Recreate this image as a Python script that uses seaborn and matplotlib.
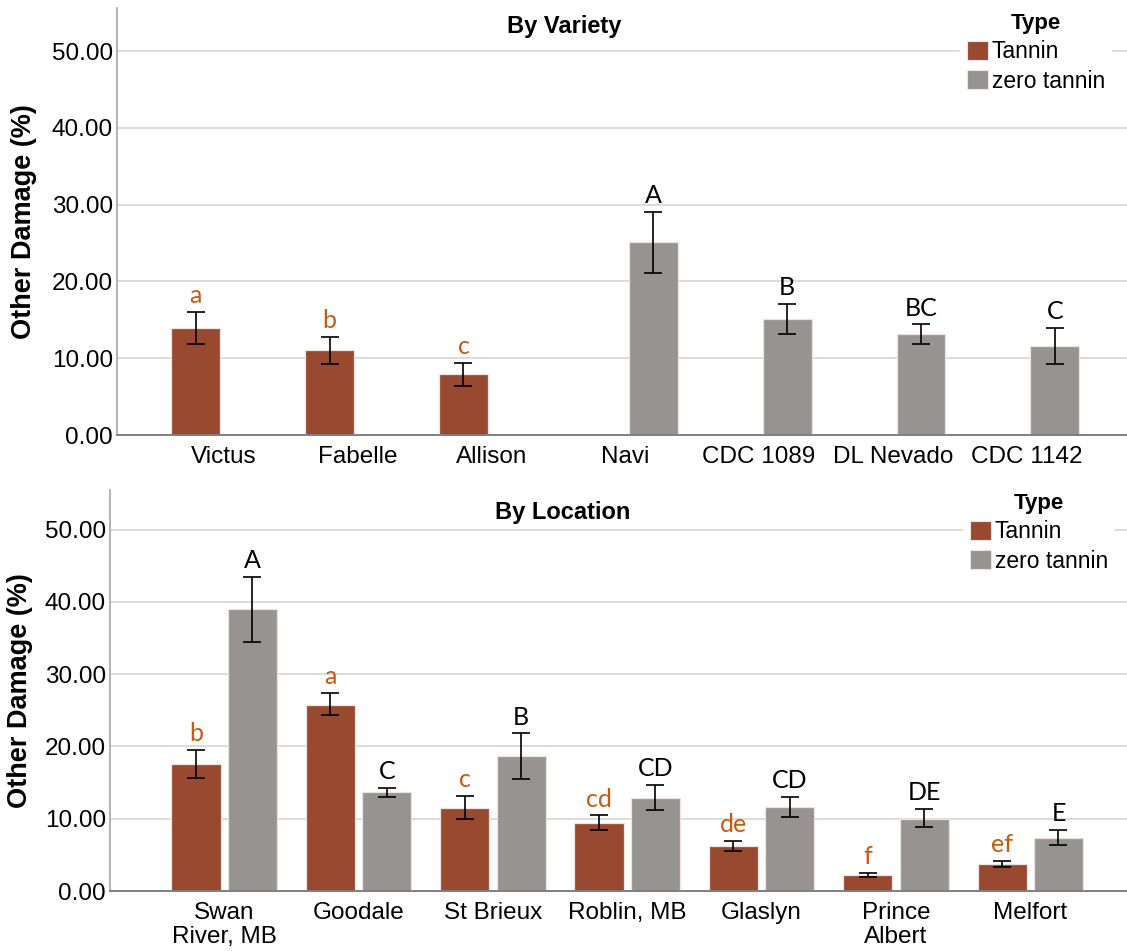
import matplotlib
matplotlib.use("Agg")
import matplotlib.pyplot as plt
import seaborn as sns
import pandas as pd

# ---------------- data ----------------
types = ["Tannin", "zero tannin"]

varieties = ["Victus", "Fabelle", "Allison", "Navi", "CDC 1089", "DL Nevado", "CDC 1142"]
variety_type = ["Tannin", "Tannin", "Tannin", "zero tannin", "zero tannin", "zero tannin", "zero tannin"]
variety_mean = [13.9, 11.1, 7.9, 25.1, 15.1, 13.1, 11.6]
variety_lo = [11.8, 9.3, 6.4, 21.1, 13.2, 11.8, 9.3]
variety_hi = [16.05, 12.8, 9.4, 29.0, 17.05, 14.4, 13.9]
variety_letters = ["a", "b", "c", "A", "B", "BC", "C"]

locations = ["Swan\nRiver, MB", "Goodale", "St Brieux", "Roblin, MB", "Glaslyn", "Prince\nAlbert", "Melfort"]
loc_tannin_mean = [17.6, 25.7, 11.5, 9.4, 6.2, 2.2, 3.75]
loc_tannin_lo = [15.7, 24.3, 10.0, 8.45, 5.5, 1.9, 3.3]
loc_tannin_hi = [19.5, 27.4, 13.2, 10.45, 6.95, 2.55, 4.2]
loc_tannin_letters = ["b", "a", "c", "cd", "de", "f", "ef"]
loc_zero_mean = [39.0, 13.65, 18.7, 12.9, 11.6, 10.0, 7.4]
loc_zero_lo = [34.5, 13.05, 15.5, 11.15, 10.3, 8.8, 6.3]
loc_zero_hi = [43.5, 14.3, 21.8, 14.7, 13.0, 11.3, 8.5]
loc_zero_letters = ["A", "C", "B", "CD", "CD", "DE", "E"]

yticks = [0, 10, 20, 30, 40, 50]

# ---------------- style ----------------
palette = {"Tannin": "#994930", "zero tannin": "#969391"}
letter_color = {"Tannin": "#C55A11", "zero tannin": "black"}

sns.set_style("white")
plt.rcParams["font.family"] = ["Liberation Sans", "DejaVu Sans"]
plt.rcParams["text.color"] = "black"
plt.rcParams["axes.labelcolor"] = "black"
plt.rcParams["xtick.color"] = "black"
plt.rcParams["ytick.color"] = "black"

df_var = pd.DataFrame({"cat": varieties, "Type": variety_type, "val": variety_mean,
                       "lo": variety_lo, "hi": variety_hi, "let": variety_letters})
df_loc = pd.concat([
    pd.DataFrame({"cat": locations, "Type": "Tannin", "val": loc_tannin_mean,
                  "lo": loc_tannin_lo, "hi": loc_tannin_hi, "let": loc_tannin_letters}),
    pd.DataFrame({"cat": locations, "Type": "zero tannin", "val": loc_zero_mean,
                  "lo": loc_zero_lo, "hi": loc_zero_hi, "let": loc_zero_letters}),
], ignore_index=True)

W, H = 1127, 951
fig = plt.figure(figsize=(W / 100, H / 100), dpi=100)


def px_axes(l, t, r, b):
    return fig.add_axes([l / W, 1 - b / H, (r - l) / W, (b - t) / H])


ax1 = px_axes(117, 8, 1127, 435)
ax2 = px_axes(110, 490, 1127, 891)

OFFSET = 0.84 / 4  # dodge offset of each hue within a category


def draw(ax, df, order, title, title_xy, xlim, ylim, legend_anchor):
    sns.barplot(data=df, x="cat", y="val", hue="Type", order=order, hue_order=types,
                palette=palette, saturation=1, width=0.84, gap=0.13, dodge=True, errorbar=None,
                edgecolor="#ece4e1", linewidth=0.9, ax=ax, legend=False, zorder=2)
    # error bars and significance letters at the dodged bar centres
    for r in df.itertuples():
        cx = order.index(r.cat) + (-OFFSET if r.Type == types[0] else OFFSET)
        ax.errorbar([cx], [r.val], yerr=[[r.val - r.lo], [r.hi - r.val]], fmt="none",
                    ecolor="black", elinewidth=1.2, capsize=6.5, capthick=1.2, zorder=3)
        ax.annotate(r.let, xy=(cx, r.hi), xytext=(0, 3.5), textcoords="offset points",
                    ha="center", va="bottom", fontsize=18, family=["Lato", "DejaVu Sans"],
                    color=letter_color[r.Type])
    ax.set_xlim(*xlim)
    ax.set_ylim(*ylim)
    ax.set_yticks(yticks)
    ax.set_yticklabels([f"{v:.2f}" for v in yticks])
    ax.yaxis.grid(True, color="#d9d9d9", linewidth=1.3, zorder=0)
    ax.set_axisbelow(True)
    for s in ["top", "right"]:
        ax.spines[s].set_visible(False)
    ax.spines["left"].set_color("#a6a6a6")
    ax.spines["bottom"].set_color("#7f7f7f")
    ax.spines["left"].set_linewidth(1.2)
    ax.spines["bottom"].set_linewidth(1.4)
    ax.tick_params(axis="both", length=0, labelsize=17.5, colors="black")
    ax.tick_params(axis="x", pad=8)
    ax.tick_params(axis="y", pad=3)
    for lab in ax.get_xticklabels():
        lab.set_linespacing(1.12)
    ax.set_xlabel("")
    ax.set_ylabel("Other Damage (%)", fontsize=19.5, fontweight="bold")
    ax.text(title_xy[0], title_xy[1], title, transform=ax.transAxes, ha="center", va="center",
            fontsize=17, fontweight="bold")
    handles = [plt.Rectangle((0, 0), 1, 1, facecolor=palette[t], edgecolor="#e6e6e6", linewidth=0.8)
               for t in types]
    leg = ax.legend(handles, types, title="Type", loc="upper right",
                    bbox_to_anchor=legend_anchor, bbox_transform=fig.transFigure,
                    frameon=True, fancybox=False, framealpha=1, edgecolor="white",
                    fontsize=16.5, title_fontproperties={"weight": "bold", "size": 16},
                    handlelength=0.92, handleheight=0.9, handletextpad=0.15,
                    labelspacing=0.28, borderpad=0.3, borderaxespad=0)
    leg.get_frame().set_linewidth(0)
    return ax


draw(ax1, df_var, varieties, "By Variety", ((564 - 117) / 1010, (435 - 27) / 427),
     (-0.80, 6.75), (0, 55.6), (1112 / W, 1 - 6 / H))
draw(ax2, df_loc, locations, "By Location", ((563 - 110) / 1017, (891 - 512) / 401),
     (-0.85, 6.72), (0, 55.5), (1115 / W, 1 - 486 / H))

ax1.yaxis.set_label_coords((37 - 117) / 1010, 0.5)
ax2.yaxis.set_label_coords((33 - 110) / 1017, 0.5)

fig.savefig("out.png", dpi=100)
